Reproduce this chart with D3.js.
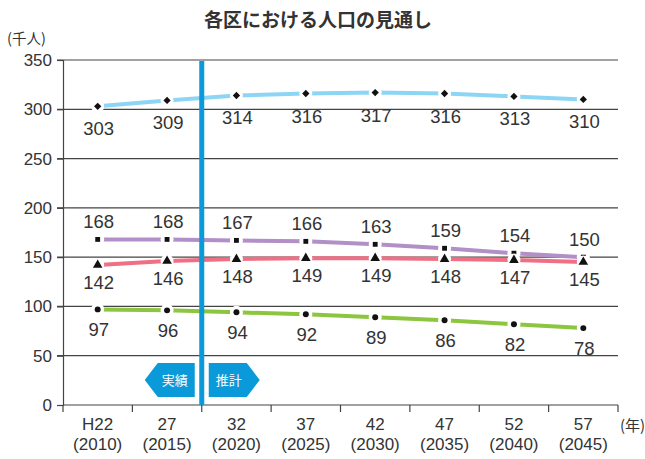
<!DOCTYPE html>
<html>
<head>
<meta charset="utf-8">
<script src="https://cdn.jsdelivr.net/npm/d3@7"></script>
<style>
  body { margin: 0; background: #fff; }
  text { font-family: "Liberation Sans", "Noto Sans CJK JP", sans-serif; fill: #333; }
  .jp { font-family: "Noto Sans CJK JP", sans-serif; }
</style>
</head>
<body>
<script>
// chart data
const years = ["H22", "27", "32", "37", "42", "47", "52", "57"]
const yearsAD = ["(2010)", "(2015)", "(2020)", "(2025)", "(2030)", "(2035)", "(2040)", "(2045)"]
const yTicks = [0, 50, 100, 150, 200, 250, 300, 350]

const popBlue = [303, 309, 314, 316, 317, 316, 313, 310]
const popPurple = [168, 168, 167, 166, 163, 159, 154, 150]
const popRed = [142, 146, 148, 149, 149, 148, 147, 145]
const popGreen = [97, 96, 94, 92, 89, 86, 82, 78]

const margin = { top: 60, right: 27, bottom: 54, left: 63 }
    , width = 645 - margin.left - margin.right
    , height = 459 - margin.top - margin.bottom

const svg = d3.select('body').append('svg')
    .attr('width', 645)
    .attr('height', 459)

// scales
const xScale = d3.scaleBand()
    .domain(years)
    .range([margin.left, margin.left + width])

const yScale = d3.scaleLinear()
    .domain([0, 350])
    .range([margin.top + height, margin.top])

const cx = i => xScale(years[i]) + xScale.bandwidth() / 2

// title
svg.append('text')
    .attr('class', 'jp')
    .attr('x', 318).attr('y', 27)
    .attr('text-anchor', 'middle')
    .attr('font-size', 19)
    .attr('font-weight', 'bold')
    .text('各区における人口の見通し')

svg.append('text')
    .attr('class', 'jp')
    .attr('x', 7).attr('y', 44)
    .attr('font-size', 14.5)
    .text('(千人)')

// horizontal gridlines
svg.append('g').selectAll('line').data(yTicks.filter(d => d > 0))
    .enter().append('line')
    .attr('x1', margin.left - 6)
    .attr('x2', margin.left + width)
    .attr('y1', d => yScale(d))
    .attr('y2', d => yScale(d))
    .attr('stroke', '#444')
    .attr('stroke-width', 1.2)

// y axis
const yAxis = svg.append('g')
    .attr('transform', 'translate(' + margin.left + ',0)')
    .call(d3.axisLeft(yScale).tickValues(yTicks).tickSize(6).tickPadding(5))
yAxis.select('.domain').attr('stroke', '#444').attr('stroke-width', 1.2)
yAxis.selectAll('.tick line').attr('stroke', '#444').attr('stroke-width', 1.2)
yAxis.selectAll('text').attr('font-size', 17).attr('fill', '#333')

// x axis (ticks at band boundaries)
const boundaries = years.map(d => xScale(d)).concat([margin.left + width])
const xAxisG = svg.append('g')
xAxisG.append('line')
    .attr('x1', margin.left).attr('x2', margin.left + width)
    .attr('y1', yScale(0)).attr('y2', yScale(0))
    .attr('stroke', '#444').attr('stroke-width', 1.2)
xAxisG.selectAll('.xt').data(boundaries).enter().append('line')
    .attr('x1', d => d).attr('x2', d => d)
    .attr('y1', yScale(0)).attr('y2', yScale(0) + 7)
    .attr('stroke', '#444').attr('stroke-width', 1.2)
xAxisG.selectAll('.xl1').data(years).enter().append('text')
    .attr('x', (d, i) => cx(i)).attr('y', 430)
    .attr('text-anchor', 'middle').attr('font-size', 17)
    .text(d => d)
xAxisG.selectAll('.xl2').data(yearsAD).enter().append('text')
    .attr('x', (d, i) => cx(i)).attr('y', 450)
    .attr('text-anchor', 'middle').attr('font-size', 17)
    .text(d => d)
svg.append('text')
    .attr('class', 'jp')
    .attr('x', 620).attr('y', 431)
    .attr('font-size', 15)
    .text('(年)')

// series
const series = [
    { values: popBlue, color: '#8dd5f5', marker: d3.symbolDiamond2, size: 34, dy: 29 },
    { values: popPurple, color: '#b28fc6', marker: d3.symbolSquare2, size: 30, dy: -11 },
    { values: popRed, color: '#ef6f85', marker: d3.symbolTriangle, size: 40, dy: 24 },
    { values: popGreen, color: '#8cc63f', marker: d3.symbolCircle, size: 28, dy: 27 }
]

const line = d3.line()
    .x((d, i) => cx(i))
    .y(d => yScale(d))

series.forEach(s => {
    const g = svg.append('g')
    g.append('path')
        .datum(s.values)
        .attr('d', line)
        .attr('fill', 'none')
        .attr('stroke', s.color)
        .attr('stroke-width', 4)
    // white gap around markers
    g.selectAll('.gap').data(s.values).enter().append('circle')
        .attr('cx', (d, i) => cx(i))
        .attr('cy', d => yScale(d))
        .attr('r', 6.5)
        .attr('fill', '#fff')
    g.selectAll('.mk').data(s.values).enter().append('path')
        .attr('transform', (d, i) => 'translate(' + cx(i) + ',' + yScale(d) + ')')
        .attr('d', d3.symbol().type(s.marker).size(s.size))
        .attr('fill', '#111')
    g.selectAll('.lb').data(s.values).enter().append('text')
        .attr('x', (d, i) => cx(i) + 1)
        .attr('y', d => yScale(d) + s.dy)
        .attr('text-anchor', 'middle')
        .attr('font-size', 18.5)
        .text(d => d)
})

// 実績 / 推計 divider
const divX = xScale(years[2])
svg.append('line')
    .attr('x1', divX).attr('x2', divX)
    .attr('y1', margin.top + 1).attr('y2', yScale(0))
    .attr('stroke', '#0a9ad9')
    .attr('stroke-width', 5)

const tagTop = 363, tagBot = 397, tagMid = (tagTop + tagBot) / 2
svg.append('path')
    .attr('d', 'M' + (divX - 7) + ',' + tagTop + 'L' + (divX - 7) + ',' + tagBot +
        'L' + (divX - 44) + ',' + tagBot + 'L' + (divX - 57) + ',' + tagMid +
        'L' + (divX - 44) + ',' + tagTop + 'Z')
    .attr('fill', '#0a9ad9')
svg.append('path')
    .attr('d', 'M' + (divX + 7) + ',' + tagTop + 'L' + (divX + 7) + ',' + tagBot +
        'L' + (divX + 45) + ',' + tagBot + 'L' + (divX + 58) + ',' + tagMid +
        'L' + (divX + 45) + ',' + tagTop + 'Z')
    .attr('fill', '#0a9ad9')
svg.append('text')
    .attr('class', 'jp')
    .attr('x', divX - 27).attr('y', tagMid + 4.5)
    .attr('text-anchor', 'middle').attr('font-size', 13)
    .style('fill', '#fff')
    .text('実績')
svg.append('text')
    .attr('class', 'jp')
    .attr('x', divX + 27).attr('y', tagMid + 4.5)
    .attr('text-anchor', 'middle').attr('font-size', 13)
    .style('fill', '#fff')
    .text('推計')
</script>
</body>
</html>
